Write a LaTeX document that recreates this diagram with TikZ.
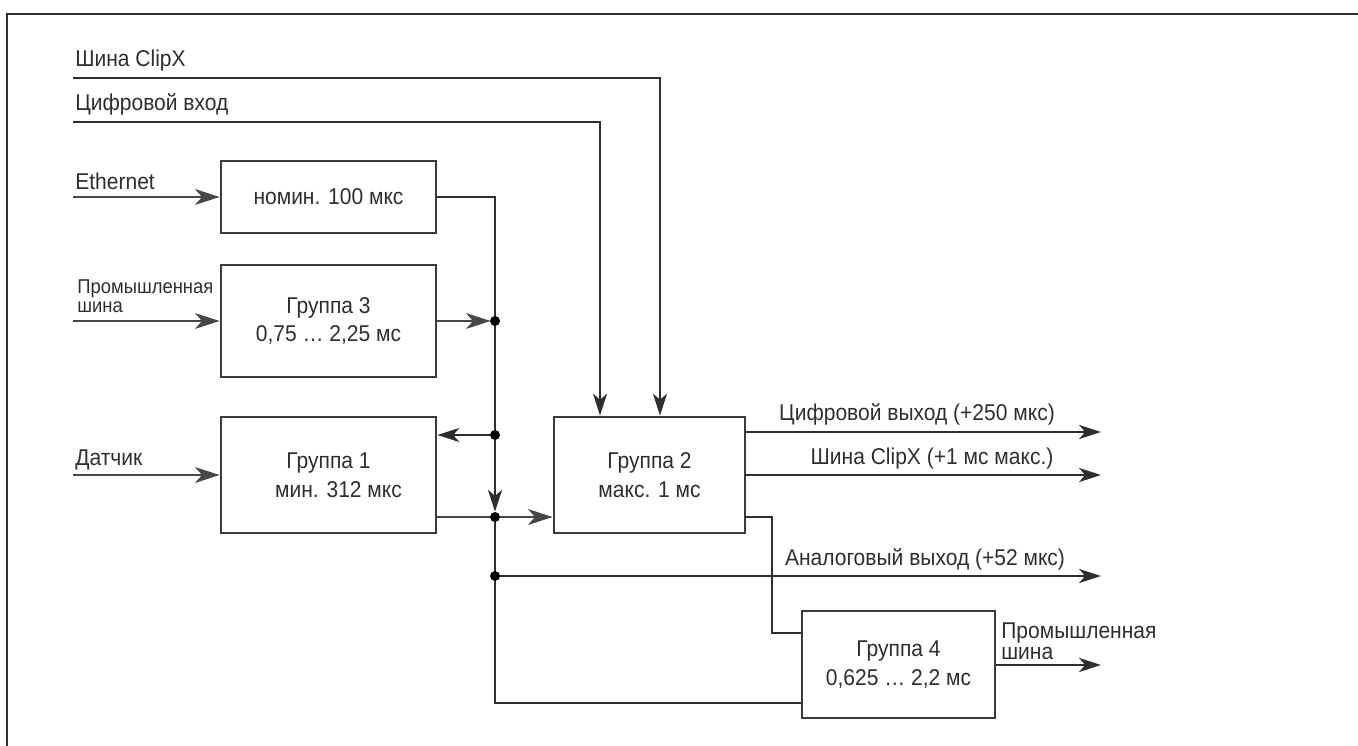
\documentclass[tikz,border=0pt]{standalone}
\usepackage{fontspec}
\setmainfont{Liberation Sans}[FakeStretch=0.92]
\usetikzlibrary{arrows.meta}
\definecolor{linec}{HTML}{2E2E2E}
\definecolor{grayc}{HTML}{474747}
\definecolor{boxc}{HTML}{3A3A3A}
\begin{document}
\begin{tikzpicture}[x=0.02cm,y=-0.02cm,
  box/.style={draw=boxc, line width=1.6pt, fill=white, inner sep=0pt, align=center,
    font=\fontsize{13}{16.4}\selectfont, text=linec},
  lbl/.style={inner sep=0pt, anchor=west, font=\fontsize{13}{14}\selectfont, text=linec},
  slbl/.style={inner sep=0pt, anchor=west, align=left, font=\fontsize{11.4}{10.5}\selectfont, text=linec},
  wire/.style={draw=linec, line width=1.1pt},
  gwire/.style={draw=grayc, line width=1.1pt},
  barr/.style={wire, -{Stealth[length=12.5pt,width=8pt,inset=3.5pt]}},
  garr/.style={gwire, -{Stealth[length=14pt,width=9pt,inset=4pt]}},
  dot/.style={circle, fill=black, inner sep=0pt, minimum size=10*0.02cm}
]
\useasboundingbox (0,0) rectangle (1358,746);
% frame
\draw[draw=linec, line width=1.2pt] (7,746) -- (7,14) -- (1358,14);

% boxes
\node[box, minimum width=4.3cm, minimum height=1.44cm] (nom) at (328.5,197) {номин. 100 мкс};
\node[box, minimum width=4.3cm, minimum height=2.24cm] (g3) at (328.5,321) {Группа 3\\0,75 … 2,25 мс};
\node[box, minimum width=4.3cm, minimum height=2.32cm] (g1) at (328.5,475) {Группа 1\\\hspace*{0.4cm}мин. 312 мкс};
\node[box, minimum width=3.82cm, minimum height=2.32cm] (g2) at (649.5,475) {Группа 2\\макс. 1 мс};
\node[box, minimum width=3.86cm, minimum height=2.14cm] (g4) at (898.5,664.5) {Группа 4\\0,625 … 2,2 мс};

% junctions
\coordinate (j3) at (495,321);
\coordinate (j1) at (495,435);
\coordinate (j2) at (495,517);
\coordinate (ja) at (495,576);
\coordinate (jb) at (495,703);
\coordinate (r4) at (772,517);
\coordinate (r4b) at (772,633);

% input lines
\coordinate (cxs) at (73,78);
\coordinate (cxc) at (660,78);
\coordinate (dis) at (73,122);
\coordinate (dic) at (600,122);
\coordinate (eth) at (73,197);
\coordinate (pbs) at (73,321);
\coordinate (dat) at (73,475);

\node[lbl] (tcx) at (75,61) {Шина ClipX};
\node[lbl] (tdi) at (75,104) {Цифровой вход};
\node[lbl] (teth) at (75,181) {Ethernet};
\node[slbl] (tpb) at (77,296) {Промышленная\\шина};
\node[lbl] (tdat) at (75,460) {Датчик};

\draw[barr] (cxs) -- (cxc) -- (cxc |- g2.north);
\draw[barr] (dis) -- (dic) -- (dic |- g2.north);
\draw[garr] (eth) -- (nom.west);
\draw[garr] (pbs) -- (g3.west);
\draw[garr] (dat) -- (g1.west);

% bus
\draw[wire] (nom.east) -| (j3) -- (j1);
\draw[barr, shorten >=3pt] (j1) -- (j2);
\draw[wire] (j2) -- (jb) -- (jb -| g4.west);
\draw[garr, shorten >=2.5pt] (g3.east) -- (j3);
\draw[barr] (j1) -- (j1 -| g1.east);
\draw[gwire] (g1.east |- j2) -- (j2);
\draw[garr] (j2) -- (j2 -| g2.west);

% outputs
\coordinate (o1) at (1101,432);
\coordinate (o2) at (1101,475);
\coordinate (o3) at (1101,576);
\coordinate (o4) at (1101,665);
\draw[barr] (g2.east |- o1) -- (o1);
\draw[barr] (g2.east |- o2) -- (o2);
\draw[barr] (ja) -- (o3);
\draw[wire] (g2.east |- r4) -- (r4) -- (r4b) -- (r4b -| g4.west);
\draw[barr] (g4.east |- o4) -- (o4);

\node[lbl, anchor=center] (to1) at (917,414) {Цифровой выход (+250 мкс)};
\node[lbl, anchor=center] (to2) at (932,459) {Шина ClipX (+1 мс макс.)};
\node[lbl, anchor=center] (to3) at (925,559) {Аналоговый выход (+52 мкс)};
\node[slbl, font=\fontsize{13}{12}\selectfont] (to4) at (1001,641) {Промышленная\\шина};

\node[dot] (d3) at (j3) {};
\node[dot] (d1) at (j1) {};
\node[dot] (d2) at (j2) {};
\node[dot] (da) at (ja) {};
\end{tikzpicture}
\end{document}
